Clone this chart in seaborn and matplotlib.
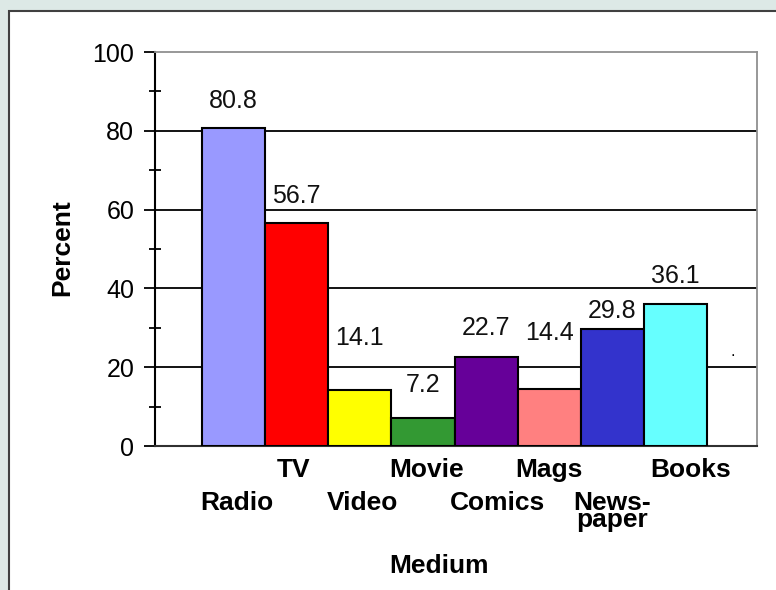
import matplotlib
matplotlib.use("Agg")
import matplotlib.pyplot as plt
from matplotlib.patches import Rectangle
import seaborn as sns
import pandas as pd

# datos
medium = ["Radio", "TV", "Video", "Movie", "Comics", "Mags", "News-\npaper", "Books"]
percent = [80.8, 56.7, 14.1, 7.2, 22.7, 14.4, 29.8, 36.1]
colors = ["#9999ff", "#ff0000", "#ffff00", "#339933", "#660099", "#ff8080", "#3333cc", "#66ffff"]

# altura extra de cada etiqueta sobre la barra (unidades de datos)
label_pad = [6.8, 6.8, 13.3, 8.3, 7.2, 14.3, 4.5, 7.0]
# ajuste horizontal de las etiquetas del eje x (unidades de categoria)
tick_dx = [0.05, -0.055, 0.04, 0.055, 0.18, 0.0, 0.0, 0.24]

df = pd.DataFrame({"Medium": medium, "Percent": percent})

sns.set_style("white")
plt.rcParams["font.family"] = ["Liberation Sans", "DejaVu Sans"]
plt.rcParams["text.color"] = "black"
plt.rcParams["ytick.color"] = "black"

fig = plt.figure(figsize=(7.76, 5.90), dpi=100)
fig.patch.set_facecolor("#dde9e6")
# panel blanco con borde oscuro arriba/izquierda
fig.patches.append(Rectangle((9 / 776, -0.1), 1.2, 1 - 11 / 590 + 0.1,
                             transform=fig.transFigure, facecolor="white",
                             edgecolor="#404040", linewidth=1.5, zorder=-10))

ax = fig.add_axes([155 / 776, 1 - 446 / 590, (757 - 155) / 776, (446 - 52) / 590])
ax.set_zorder(1)
ax.set_facecolor("white")

sns.barplot(data=df, x="Medium", y="Percent", hue="Medium", palette=colors,
            legend=False, width=1.0, edgecolor="black", linewidth=1.5,
            saturation=1, ax=ax, zorder=3)

ax.set_xlim(-1.245, 8.29)
ax.set_ylim(0, 100)

# lineas de cuadricula
for g in [20, 40, 60, 80]:
    ax.axhline(g, color="black", linewidth=1.3, zorder=1)

for s in ["top", "right"]:
    ax.spines[s].set_color("#909090")
    ax.spines[s].set_linewidth(1.3)
ax.spines["left"].set_color("black")
ax.spines["left"].set_linewidth(1.5)
ax.spines["bottom"].set_color("#303030")
ax.spines["bottom"].set_linewidth(1.5)

ax.set_yticks([0, 20, 40, 60, 80, 100])
ax.set_yticks([10, 30, 50, 70, 90], minor=True)
ax.tick_params(axis="y", which="major", direction="out", length=8, width=1.3,
               color="black", left=True, labelsize=18, pad=7)
ax.tick_params(axis="y", which="minor", direction="inout", length=8, width=1.3,
               color="black", left=True)

# etiquetas del eje x escalonadas
ax.set_xticks(range(len(medium)))
ax.set_xticklabels([])
ax.tick_params(axis="x", bottom=False)
for i, name in enumerate(medium):
    yy = -3.0 if i % 2 else -11.3
    ax.text(i + tick_dx[i], yy, name, ha="center", va="top", fontsize=19,
            fontweight="bold", linespacing=0.68, clip_on=False)

# valores sobre las barras
for i, v in enumerate(percent):
    ax.text(i, v + label_pad[i], f"{v}", ha="center", va="center", fontsize=18,
            color="#111111", zorder=4)
ax.text(7.91, 23.9, ".", ha="center", va="center", fontsize=12)

ax.set_xlabel("")
ax.set_ylabel("")
fig.text(62 / 776, 1 - 248 / 590, "Percent", rotation=90, ha="center", va="center",
         fontsize=19, fontweight="bold")
fig.text(439 / 776, 1 - 566 / 590, "Medium", ha="center", va="center",
         fontsize=19, fontweight="bold")

fig.savefig("out.png", dpi=100, facecolor=fig.get_facecolor())
